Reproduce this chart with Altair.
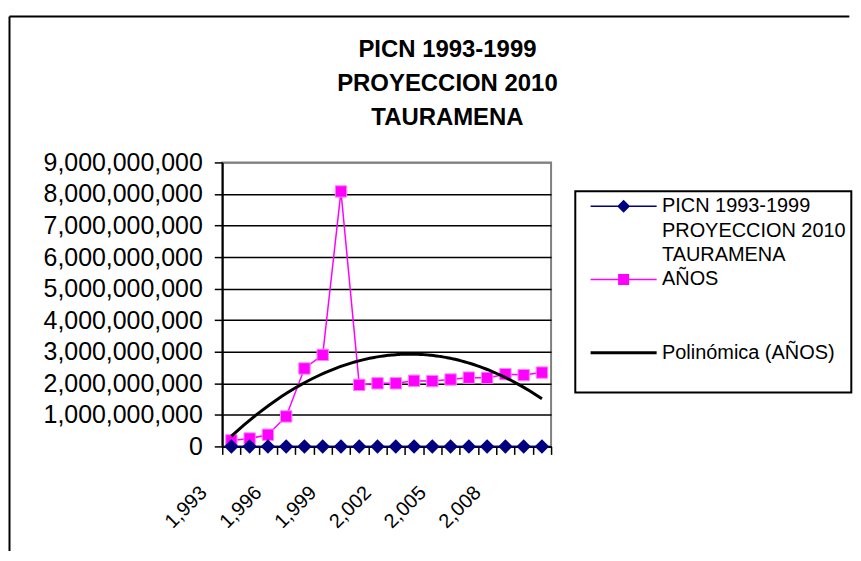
import altair as alt
import pandas as pd

# ---- data ----
years = [1993, 1994, 1995, 1996, 1997, 1998, 1999, 2000, 2001,
         2002, 2003, 2004, 2005, 2006, 2007, 2008, 2009, 2010]
# series "PICN 1993-1999 PROYECCION 2010 TAURAMENA" (plotted at ~0)
picn = [1993, 1994, 1995, 1996, 1997, 1998, 1999, 2000, 2001,
        2002, 2003, 2004, 2005, 2006, 2007, 2008, 2009, 2010]
# series "AÑOS"
anos = [190e6, 250e6, 370e6, 950e6, 2470e6, 2900e6, 8080e6, 1950e6, 2000e6,
        2000e6, 2080e6, 2070e6, 2120e6, 2180e6, 2170e6, 2290e6, 2260e6, 2340e6]
y_ticks = [0, 1e9, 2e9, 3e9, 4e9, 5e9, 6e9, 7e9, 8e9, 9e9]
title_lines = ["PICN 1993-1999", "PROYECCION 2010", "TAURAMENA"]
legend_names = ["PICN 1993-1999", "PROYECCION 2010", "TAURAMENA", "AÑOS",
                " ", "  ", "Polinómica (AÑOS)", "   "]
legend_colors = ["#000080", "transparent", "transparent", "#FF00FF",
                 "transparent", "transparent", "#000000", "transparent"]
legend_shapes = [
    "M-5.1,-0.12H5.1V0.12H-5.1ZM0,-1L1,0L0,1L-1,0Z",
    "M0,0", "M0,0",
    "M-5.1,-0.12H5.1V0.12H-5.1ZM-0.85,-0.85H0.85V0.85H-0.85Z",
    "M0,0", "M0,0",
    "M-5.1,-0.24H5.1V0.24H-5.1Z",
    "M0,0",
]

df_anos = pd.DataFrame({"year": years, "value": anos})
df_picn = pd.DataFrame({"year": years, "value": picn})
df_leg = pd.DataFrame({"series": legend_names})

FONT = "Liberation Sans"
boundaries = [y - 0.5 for y in years] + [years[-1] + 0.5]

x_enc = alt.X(
    "year:Q",
    scale=alt.Scale(domain=[years[0] - 0.5, years[-1] + 0.5], nice=False, zero=False),
    axis=alt.Axis(
        values=boundaries,
        labelExpr="(datum.value - 1992.5) % 3 == 0 && datum.value < 2008 ? format(datum.value + 0.5, ',') : ''",
        labelAngle=315, labelAlign="right", labelBaseline="middle",
        labelOffset=-19, labelPadding=35, labelFont=FONT, labelFontSize=20,
        labelColor="black", labelOverlap=False, labelFlush=False,
        tickSize=8, tickColor="black", tickWidth=1.5,
        domainColor="black", domainWidth=2, grid=False, title=None,
    ),
)
y_enc = alt.Y(
    "value:Q",
    scale=alt.Scale(domain=[0, 9e9], nice=False, zero=True),
    axis=alt.Axis(
        values=y_ticks, format=",.0f", labelFont=FONT, labelFontSize=25,
        labelColor="black", labelPadding=12, labelFlush=False, labelOverlap=False,
        tickSize=8, tickColor="black", tickWidth=1.5,
        domainColor="black", domainWidth=2,
        grid=True, gridWidth=1.5,
        gridColor={"condition": {"test": "datum.value >= 9e9", "value": "#808080"},
                   "value": "black"},
        title=None,
    ),
)

one_row = alt.Data(values=[{}])
frame_top = alt.Chart(one_row).mark_rule(stroke="black", strokeWidth=2).encode(
    x=alt.value(-213.5), x2=alt.value(629.3), y=alt.value(-146.5)
)
frame_left = alt.Chart(one_row).mark_rule(stroke="black", strokeWidth=2).encode(
    x=alt.value(-213.5), y=alt.value(-146.5), y2=alt.value(390)
)

pink_line = alt.Chart(df_anos).mark_line(color="#FF00FF", strokeWidth=1.5).encode(x=x_enc, y=y_enc)
pink_pts = alt.Chart(df_anos).mark_point(
    shape="square", filled=True, size=130, fill="#FF00FF",
    stroke="#FF80FF", strokeWidth=1, opacity=1
).encode(x=x_enc, y=y_enc)

blue_line = alt.Chart(df_picn).mark_line(color="#000080", strokeWidth=1.5).encode(x=x_enc, y=y_enc)
blue_pts = alt.Chart(df_picn).mark_point(
    shape="diamond", filled=True, size=210, color="#000080", opacity=1
).encode(x=x_enc, y=y_enc)

trend = alt.Chart(df_anos).transform_regression(
    "year", "value", method="poly", order=2, extent=[years[0], years[-1]]
).mark_line(color="black", strokeWidth=3).encode(x=x_enc, y=y_enc)

leg_props = dict(
    orient="none", legendX=354.3, legendY=29, padding=5, rowPadding=4.5,
    symbolOffset=33.5, labelOffset=28.5, labelFont=FONT, labelFontSize=20,
    labelColor="black", labelLimit=400, fillColor="white", strokeColor="black",
    symbolSize=169, title=None,
)
legend_layer = alt.Chart(df_leg).transform_filter("false").mark_point(
    filled=True, size=169, opacity=1
).encode(
    color=alt.Color("series:N", scale=alt.Scale(domain=legend_names, range=legend_colors),
                    legend=alt.Legend(**leg_props)),
    shape=alt.Shape("series:N", scale=alt.Scale(domain=legend_names, range=legend_shapes),
                    legend=alt.Legend(**leg_props)),
)

chart = alt.layer(
    frame_top, frame_left, pink_line, pink_pts, blue_line, blue_pts, trend, legend_layer
).properties(
    width=330, height=285,
    padding={"left": 0, "top": 6, "right": 0, "bottom": 0},
    background="white",
    title=alt.TitleParams(
        text=title_lines, font=FONT, fontSize=24, fontWeight="bold", color="black",
        anchor="middle", frame="group", dx=61, dy=119, lineHeight=34,
    ),
).configure_view(
    fill="#C0C0C0", stroke="#808080", strokeWidth=2
).configure_legend(
    strokeWidth=2
)

chart.save("out.html", embed_options={"renderer": "svg", "actions": False})
